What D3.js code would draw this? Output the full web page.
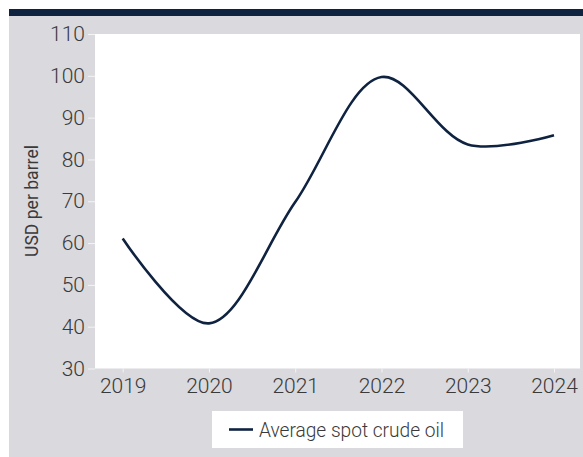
<!DOCTYPE html>
<html>
<head>
<meta charset="utf-8">
<script src="https://cdn.jsdelivr.net/npm/d3@7/dist/d3.min.js"></script>
<style>
  html, body { margin: 0; padding: 0; background: #ffffff; }
  svg { display: block; }
  text { font-family: Roboto, "Liberation Sans", sans-serif; fill: #3a3a3a; }
</style>
</head>
<body>
<svg id="chart" width="583" height="457"></svg>
<script>
// Average spot crude oil price, USD per barrel
const years = [2019, 2020, 2021, 2022, 2023, 2024];
const prices = [61.1, 40.8, 69.8, 99.7, 83.6, 85.8];
const yTicks = [30, 40, 50, 60, 70, 80, 90, 100, 110];
const seriesName = "Average spot crude oil";
const yTitle = "USD per barrel";

const W = 583, H = 457;
const panel = { left: 95, right: 580, top: 34, bottom: 368.5 };
const navy = "#0f2341";
const bg = "#d9d9de";

const svg = d3.select("#chart");

// outer frame: grey field with a navy rule along the top
svg.append("rect").attr("x", 9).attr("y", 9).attr("width", W - 9).attr("height", H - 9).attr("fill", bg);
svg.append("rect").attr("x", 9).attr("y", 9).attr("width", W - 9).attr("height", 7).attr("fill", navy);

// plotting panel
svg.append("rect")
  .attr("x", panel.left).attr("y", panel.top)
  .attr("width", panel.right - panel.left).attr("height", panel.bottom - panel.top)
  .attr("fill", "#ffffff");

const x = d3.scaleLinear().domain([2019, 2024]).range([122.7, 554]);
const y = d3.scaleLinear().domain([30, 110]).range([panel.bottom, panel.top]);

// y axis
const yAxis = svg.append("g")
  .attr("transform", `translate(${panel.left},0)`)
  .call(d3.axisLeft(y).tickValues(yTicks).tickSize(7).tickPadding(3));
yAxis.select(".domain").remove();
yAxis.selectAll(".tick line").attr("stroke", "#f4f4f6").attr("stroke-width", 1);
yAxis.selectAll(".tick text")
  .attr("font-size", 21).attr("font-weight", 300)
  .attr("fill", "#333").style("font-family", "Roboto, sans-serif");

// x axis
const xAxis = svg.append("g")
  .attr("transform", `translate(0,${panel.bottom})`)
  .call(d3.axisBottom(x).tickValues(years).tickFormat(d3.format("d")).tickSize(4).tickPadding(6));
xAxis.select(".domain").remove();
xAxis.selectAll(".tick line").attr("stroke", "#f4f4f6").attr("stroke-width", 1);
xAxis.selectAll(".tick text")
  .attr("font-size", 21).attr("font-weight", 300)
  .attr("fill", "#333").style("font-family", "Roboto, sans-serif");

// y axis title (narrowed to the condensed face of the house style)
svg.append("text")
  .attr("transform", `translate(37.5,201) rotate(-90)`)
  .attr("text-anchor", "middle")
  .attr("font-size", 17.5)
  .attr("textLength", 112)
  .attr("lengthAdjust", "spacingAndGlyphs")
  .attr("fill", "#1e1e1e")
  .text(yTitle);

// smooth price line
const line = d3.line()
  .x((d, i) => x(years[i]))
  .y(d => y(d))
  .curve(d3.curveCatmullRom.alpha(0.5));

svg.append("path")
  .datum(prices)
  .attr("d", line)
  .attr("fill", "none")
  .attr("stroke", navy)
  .attr("stroke-width", 2.6)
  .attr("stroke-linecap", "butt");

// legend
const lg = svg.append("g");
lg.append("rect").attr("x", 212).attr("y", 411).attr("width", 251).attr("height", 37).attr("fill", "#ffffff");
lg.append("line").attr("x1", 229).attr("x2", 253).attr("y1", 429.5).attr("y2", 429.5)
  .attr("stroke", navy).attr("stroke-width", 2.6);
lg.append("text").attr("x", 259).attr("y", 437)
  .attr("font-size", 20).attr("font-weight", 300).attr("fill", "#2a2a2a")
  .attr("textLength", 185).attr("lengthAdjust", "spacingAndGlyphs")
  .text(seriesName);
</script>
</body>
</html>
